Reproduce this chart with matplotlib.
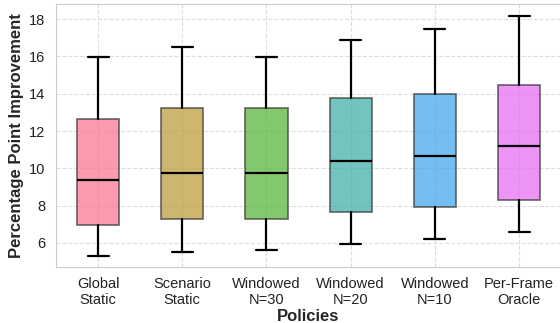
import matplotlib
matplotlib.use("Agg")
import matplotlib.pyplot as plt
import seaborn as sns

categories = ["Global\nStatic", "Scenario\nStatic", "Windowed\nN=30", "Windowed\nN=20", "Windowed\nN=10", "Per-Frame\nOracle"]
whislo = [5.32, 5.54, 5.64, 5.93, 6.23, 6.57]
q1 = [6.97, 7.29, 7.30, 7.68, 7.91, 8.30]
med = [9.36, 9.77, 9.77, 10.39, 10.68, 11.18]
q3 = [12.66, 13.25, 13.23, 13.79, 14.00, 14.46]
whishi = [15.95, 16.52, 15.95, 16.86, 17.45, 18.16]

sns.set_style("whitegrid")
plt.rcParams['font.family'] = ['Liberation Sans', 'DejaVu Sans']

colors = sns.color_palette("husl", len(categories))

fig = plt.figure(figsize=(5.6, 3.23), dpi=100)
ax = fig.add_axes([0.1, 0.1743, 0.902, 0.8124])

stats = []
for i, c in enumerate(categories):
    stats.append(dict(label=c, whislo=whislo[i], q1=q1[i], med=med[i], q3=q3[i], whishi=whishi[i], fliers=[]))

bp = ax.bxp(stats, positions=range(len(categories)), widths=0.5, patch_artist=True,
            showfliers=False,
            boxprops=dict(linewidth=1.3, edgecolor='#3a3a3a'),
            medianprops=dict(color='black', linewidth=1.6),
            whiskerprops=dict(color='black', linewidth=1.6),
            capprops=dict(color='black', linewidth=1.6))
for patch, col in zip(bp['boxes'], colors):
    patch.set_facecolor(col)
    patch.set_alpha(0.7)
    patch.set_zorder(2)

ax.set_xlim(-0.5, 5.5)
ax.set_ylim(4.73, 18.79)
ax.set_yticks([6, 8, 10, 12, 14, 16, 18])
ax.grid(True, linestyle='--', color='#dddddd', linewidth=0.8)
ax.set_axisbelow(True)
ax.tick_params(axis='both', labelsize=10.5, pad=4)
for lab in ax.get_xticklabels() + ax.get_yticklabels():
    lab.set_color('#222222')
ax.set_xlabel("Policies", fontsize=12, fontweight='bold', labelpad=1)
ax.set_ylabel("Percentage Point Improvement", fontsize=12, fontweight='bold', labelpad=4)
for s in ax.spines.values():
    s.set_color('#cccccc')

fig.savefig("out.png", dpi=100)
